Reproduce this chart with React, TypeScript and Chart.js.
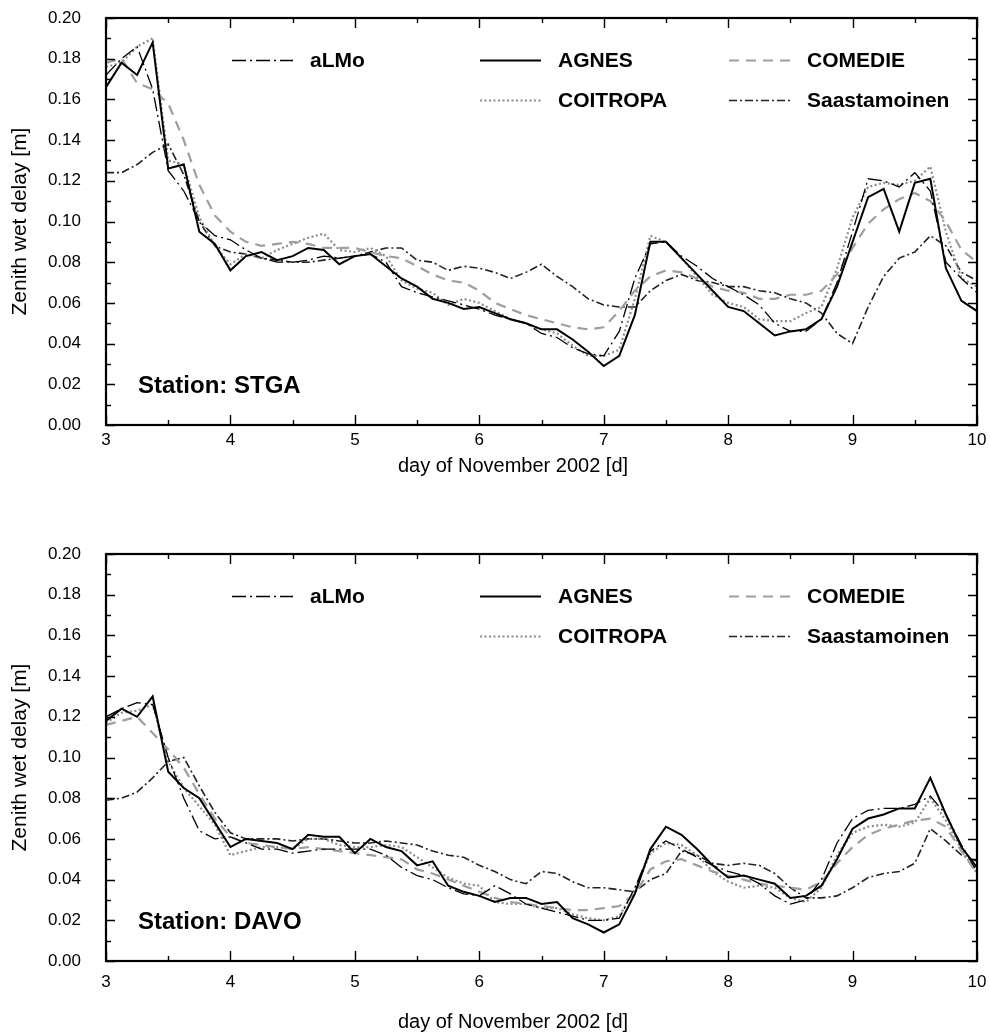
import React, { useEffect, useRef } from 'react';
import { Chart, registerables } from 'chart.js';
Chart.register(...registerables);

// x positions (day of November 2002), 3-hour steps
const days = [
  3, 3.125, 3.25, 3.375, 3.5, 3.625, 3.75, 3.875,
  4, 4.125, 4.25, 4.375, 4.5, 4.625, 4.75, 4.875,
  5, 5.125, 5.25, 5.375, 5.5, 5.625, 5.75, 5.875,
  6, 6.125, 6.25, 6.375, 6.5, 6.625, 6.75, 6.875,
  7, 7.125, 7.25, 7.375, 7.5, 7.625, 7.75, 7.875,
  8, 8.125, 8.25, 8.375, 8.5, 8.625, 8.75, 8.875,
  9, 9.125, 9.25, 9.375, 9.5, 9.625, 9.75, 9.875,
  10,
];

const seriesNames = ['aLMo', 'AGNES', 'COMEDIE', 'COITROPA', 'Saastamoinen'];

// ---------- Station STGA ----------
const stgaALMo = [
  0.172, 0.180, 0.186, 0.165, 0.125, 0.115, 0.100, 0.093,
  0.091, 0.086, 0.082, 0.080, 0.080, 0.081, 0.083, 0.082,
  0.083, 0.084, 0.080, 0.068, 0.065, 0.063, 0.061, 0.059,
  0.057, 0.054, 0.052, 0.050, 0.045, 0.043, 0.038, 0.035,
  0.034, 0.046, 0.072, 0.089, 0.090, 0.083, 0.078, 0.072,
  0.068, 0.064, 0.059, 0.050, 0.046, 0.046, 0.052, 0.070,
  0.095, 0.121, 0.120, 0.117, 0.124, 0.115, 0.080, 0.072,
  0.065,
];
const stgaAGNES = [
  0.166, 0.178, 0.172, 0.188, 0.126, 0.128, 0.095, 0.089,
  0.076, 0.083, 0.085, 0.081, 0.083, 0.087, 0.086, 0.079,
  0.083, 0.084, 0.078, 0.072, 0.068, 0.062, 0.060, 0.057,
  0.058, 0.055, 0.052, 0.050, 0.047, 0.047, 0.042, 0.036,
  0.029, 0.034, 0.054, 0.090, 0.090, 0.082, 0.074, 0.066,
  0.058, 0.056, 0.050, 0.044, 0.046, 0.047, 0.052, 0.068,
  0.090, 0.112, 0.116, 0.095, 0.119, 0.121, 0.077, 0.061,
  0.056,
];
const stgaCOMEDIE = [
  0.178, 0.180, 0.168, 0.165, 0.158, 0.140, 0.118, 0.103,
  0.095, 0.090, 0.088, 0.089, 0.090, 0.089, 0.087, 0.087,
  0.087, 0.085, 0.083, 0.082, 0.078, 0.074, 0.071, 0.070,
  0.066, 0.060, 0.057, 0.054, 0.052, 0.050, 0.048, 0.047,
  0.048, 0.056, 0.066, 0.073, 0.076, 0.075, 0.072, 0.068,
  0.066, 0.065, 0.062, 0.062, 0.064, 0.064, 0.066, 0.074,
  0.087, 0.099, 0.106, 0.111, 0.114, 0.110, 0.100, 0.086,
  0.080,
];
const stgaCOITROPA = [
  0.176, 0.178, 0.186, 0.190, 0.130, 0.128, 0.102, 0.088,
  0.079, 0.084, 0.082, 0.086, 0.089, 0.092, 0.094, 0.086,
  0.085, 0.087, 0.083, 0.071, 0.067, 0.065, 0.059, 0.062,
  0.060, 0.056, 0.052, 0.050, 0.047, 0.045, 0.039, 0.034,
  0.034, 0.037, 0.062, 0.093, 0.090, 0.082, 0.073, 0.064,
  0.060, 0.058, 0.052, 0.051, 0.051, 0.055, 0.058, 0.077,
  0.102, 0.117, 0.119, 0.118, 0.120, 0.127, 0.095, 0.072,
  0.068,
];
const stgaSaast = [
  0.124, 0.124, 0.128, 0.134, 0.138, 0.123, 0.100, 0.088,
  0.085, 0.084, 0.082, 0.081, 0.080, 0.080, 0.081, 0.082,
  0.083, 0.085, 0.087, 0.087, 0.081, 0.080, 0.076, 0.078,
  0.077, 0.075, 0.072, 0.075, 0.079, 0.073, 0.068, 0.062,
  0.059, 0.058, 0.058, 0.066, 0.071, 0.074, 0.071, 0.070,
  0.068, 0.068, 0.066, 0.065, 0.062, 0.060, 0.055, 0.045,
  0.040, 0.058, 0.073, 0.082, 0.085, 0.093, 0.088, 0.075,
  0.071,
];

// ---------- Station DAVO ----------
const davoALMo = [
  0.120, 0.124, 0.127, 0.126, 0.100, 0.080, 0.064, 0.060,
  0.061, 0.058, 0.055, 0.055, 0.053, 0.054, 0.055, 0.055,
  0.055, 0.055, 0.052, 0.046, 0.042, 0.040, 0.036, 0.033,
  0.032, 0.037, 0.033, 0.028, 0.026, 0.024, 0.022, 0.020,
  0.020, 0.021, 0.036, 0.054, 0.059, 0.055, 0.051, 0.047,
  0.044, 0.042, 0.038, 0.032, 0.028, 0.030, 0.040, 0.058,
  0.070, 0.074, 0.075, 0.075, 0.077, 0.081, 0.072, 0.057,
  0.044,
];
const davoAGNES = [
  0.118, 0.124, 0.120, 0.130, 0.093, 0.085, 0.080, 0.068,
  0.056, 0.060, 0.059, 0.058, 0.055, 0.062, 0.061, 0.061,
  0.053, 0.060, 0.056, 0.054, 0.047, 0.049, 0.037, 0.034,
  0.032, 0.029, 0.031, 0.031, 0.028, 0.029, 0.021, 0.018,
  0.014, 0.018, 0.033, 0.055, 0.066, 0.062, 0.055, 0.047,
  0.041, 0.042, 0.040, 0.038, 0.031, 0.032, 0.037, 0.050,
  0.065, 0.070, 0.072, 0.075, 0.075, 0.090, 0.072, 0.056,
  0.046,
];
const davoCOMEDIE = [
  0.116, 0.118, 0.120, 0.112, 0.104, 0.095, 0.082, 0.070,
  0.061, 0.058, 0.057, 0.056, 0.055, 0.056, 0.055, 0.054,
  0.053, 0.052, 0.051, 0.050, 0.045, 0.043, 0.040, 0.037,
  0.034, 0.031, 0.029, 0.028, 0.027, 0.026, 0.025, 0.025,
  0.026, 0.027, 0.033, 0.045, 0.049, 0.050, 0.047, 0.044,
  0.042, 0.040, 0.038, 0.037, 0.036, 0.035, 0.039, 0.048,
  0.056, 0.062, 0.065, 0.067, 0.069, 0.070, 0.066, 0.054,
  0.043,
];
const davoCOITROPA = [
  0.117, 0.122, 0.123, 0.126, 0.098, 0.085, 0.076, 0.067,
  0.052, 0.054, 0.056, 0.056, 0.055, 0.060, 0.060, 0.057,
  0.056, 0.056, 0.057, 0.056, 0.051, 0.046, 0.041, 0.038,
  0.037, 0.029, 0.028, 0.028, 0.026, 0.026, 0.023, 0.021,
  0.020, 0.022, 0.035, 0.053, 0.058, 0.057, 0.052, 0.044,
  0.039, 0.036, 0.037, 0.036, 0.031, 0.029, 0.036, 0.052,
  0.063, 0.066, 0.067, 0.066, 0.068, 0.080, 0.069, 0.055,
  0.043,
];
const davoSaast = [
  0.079, 0.080, 0.083, 0.090, 0.098, 0.100, 0.086, 0.073,
  0.063, 0.060, 0.060, 0.060, 0.059, 0.060, 0.060, 0.059,
  0.058, 0.058, 0.059, 0.058, 0.057, 0.054, 0.052, 0.051,
  0.047, 0.044, 0.040, 0.038, 0.044, 0.043, 0.039, 0.036,
  0.036, 0.035, 0.034, 0.040, 0.043, 0.054, 0.052, 0.048,
  0.047, 0.048, 0.047, 0.043, 0.036, 0.031, 0.031, 0.032,
  0.036, 0.041, 0.043, 0.044, 0.048, 0.065, 0.059, 0.052,
  0.049,
];

const xTitle = 'day of November 2002 [d]';
const yTitle = 'Zenith wet delay [m]';

const FONT = '"Liberation Sans", Arial, Helvetica, sans-serif';

const lineStyles: Record<string, { color: string; width: number; dash: number[] }> = {
  aLMo: { color: '#000000', width: 1.3, dash: [14, 4, 2, 4] },
  AGNES: { color: '#000000', width: 2.0, dash: [] },
  COMEDIE: { color: '#9e9e9e', width: 2.2, dash: [10, 7] },
  COITROPA: { color: '#8c8c8c', width: 2.2, dash: [2, 2.5] },
  Saastamoinen: { color: '#222222', width: 1.6, dash: [8, 3, 2, 3] },
};

// legend grid slots (column, row)
const legendSlots: { name: string; col: number; row: number }[] = [
  { name: 'aLMo', col: 0, row: 0 },
  { name: 'AGNES', col: 1, row: 0 },
  { name: 'COMEDIE', col: 2, row: 0 },
  { name: 'COITROPA', col: 1, row: 1 },
  { name: 'Saastamoinen', col: 2, row: 1 },
];

function makeFramePlugin(station: string, xTitleOffset: number) {
  return {
    id: 'frameTicks',
    afterDraw(chart: any) {
      const { ctx, chartArea } = chart;
      const { left, right, top, bottom } = chartArea;
      const xs = chart.scales.x;
      const ys = chart.scales.y;
      ctx.save();
      ctx.setLineDash([]);
      ctx.strokeStyle = '#000';
      // inward ticks on all four sides
      ctx.lineWidth = 1.4;
      for (let d = 3; d <= 10.001; d += 0.5) {
        const px = Math.round(xs.getPixelForValue(d)) + 0.5;
        const major = Math.abs(d - Math.round(d)) < 1e-6;
        const len = major ? 10 : 5;
        ctx.beginPath();
        ctx.moveTo(px, bottom);
        ctx.lineTo(px, bottom - len);
        ctx.moveTo(px, top);
        ctx.lineTo(px, top + len);
        ctx.stroke();
      }
      for (let k = 0; k <= 20; k++) {
        const py = Math.round(ys.getPixelForValue(k * 0.01)) + 0.5;
        const len = k % 2 === 0 ? 9 : 5;
        ctx.beginPath();
        ctx.moveTo(left, py);
        ctx.lineTo(left + len, py);
        ctx.moveTo(right, py);
        ctx.lineTo(right - len, py);
        ctx.stroke();
      }
      // frame
      ctx.lineWidth = 2.2;
      ctx.strokeRect(left, top, right - left, bottom - top);

      // legend
      const colX = [126, 374, 623];
      const rowY = [42, 82];
      ctx.font = `bold 21px ${FONT}`;
      ctx.textBaseline = 'middle';
      ctx.textAlign = 'left';
      ctx.fillStyle = '#000';
      legendSlots.forEach((s) => {
        const ds = chart.data.datasets.find((d: any) => d.label === s.name);
        const x0 = left + colX[s.col];
        const y0 = Math.round(top + rowY[s.row]) + 0.5;
        ctx.strokeStyle = ds.borderColor;
        ctx.lineWidth = ds.borderWidth;
        ctx.setLineDash(ds.borderDash || []);
        ctx.beginPath();
        ctx.moveTo(x0, y0);
        ctx.lineTo(x0 + 61, y0);
        ctx.stroke();
        ctx.setLineDash([]);
        ctx.fillText(s.name, x0 + 78, y0 + 1);
      });

      // station label
      ctx.font = `bold 24px ${FONT}`;
      ctx.fillText('Station: ' + station, left + 32, bottom - 39);

      // x axis title
      ctx.font = `20px ${FONT}`;
      ctx.textAlign = 'center';
      ctx.fillText(xTitle, 513, bottom + xTitleOffset);
      ctx.restore();
    },
  };
}

type PanelProps = {
  station: string;
  series: number[][];
  height: number;
  area: { top: number; bottom: number; left: number; right: number };
  xTickPad: number;
  xTitleOffset: number;
};

function Panel({ station, series, height, area, xTickPad, xTitleOffset }: PanelProps) {
  const ref = useRef<HTMLCanvasElement>(null);
  useEffect(() => {
    const tickFont = { family: FONT, size: 17 };
    const titleFont = { family: FONT, size: 21 };
    const chart = new Chart(ref.current as HTMLCanvasElement, {
      type: 'line',
      data: {
        datasets: seriesNames.map((name, k) => ({
          label: name,
          data: days.map((d, i) => ({ x: d, y: series[k][i] })),
          borderColor: lineStyles[name].color,
          borderWidth: lineStyles[name].width,
          borderDash: lineStyles[name].dash,
          pointRadius: 0,
          fill: false,
          tension: 0,
        })),
      },
      options: {
        responsive: false,
        animation: false,
        devicePixelRatio: 1,
        layout: { padding: { top: area.top, right: 990 - area.right, left: 0, bottom: 0 } },
        plugins: { legend: { display: false }, tooltip: { enabled: false } },
        scales: {
          x: {
            type: 'linear',
            min: 3,
            max: 10,
            ticks: { stepSize: 1, padding: xTickPad, font: tickFont, color: '#000', maxRotation: 0, autoSkip: false },
            grid: { display: false, drawTicks: false },
            border: { display: false },
            afterFit: (s: any) => {
              s.height = height - area.bottom;
              s.paddingLeft = 0;
              s.paddingRight = 0;
            },
          },
          y: {
            min: 0,
            max: 0.2,
            ticks: { stepSize: 0.02, padding: 25, font: tickFont, color: '#000', callback: (v: any) => Number(v).toFixed(2) },
            grid: { display: false, drawTicks: false },
            border: { display: false },
            title: { display: true, text: yTitle, font: titleFont, color: '#000', padding: { top: 8, bottom: 0 } },
            afterFit: (s: any) => {
              s.width = area.left;
              s.paddingTop = 0;
              s.paddingBottom = 0;
            },
          },
        },
      } as any,
      plugins: [makeFramePlugin(station, xTitleOffset)],
    });
    // nudge the layout padding so the plot frame sits exactly where wanted
    for (let it = 0; it < 3; it++) {
      const ca = chart.chartArea;
      const p = (chart.options.layout as any).padding;
      const dTop = area.top - ca.top;
      const dRight = ca.right - area.right;
      if (Math.abs(dTop) < 0.5 && Math.abs(dRight) < 0.5) break;
      p.top = Math.max(0, p.top + dTop);
      p.right = Math.max(0, p.right + dRight);
      chart.update();
    }
    return () => chart.destroy();
  }, []);
  return <canvas ref={ref} width={990} height={height} style={{ display: 'block', width: 990, height }} />;
}

export default function App() {
  return (
    <div style={{ position: 'absolute', left: 0, top: 0, width: 990, height: 1036, background: '#fff' }}>
      <Panel
        station="STGA"
        series={[stgaALMo, stgaAGNES, stgaCOMEDIE, stgaCOITROPA, stgaSaast]}
        height={518}
        area={{ top: 18, bottom: 425, left: 106, right: 977 }}
        xTickPad={5}
        xTitleOffset={41}
      />
      <Panel
        station="DAVO"
        series={[davoALMo, davoAGNES, davoCOMEDIE, davoCOITROPA, davoSaast]}
        height={518}
        area={{ top: 36, bottom: 443, left: 106, right: 977 }}
        xTickPad={11}
        xTitleOffset={61}
      />
    </div>
  );
}
